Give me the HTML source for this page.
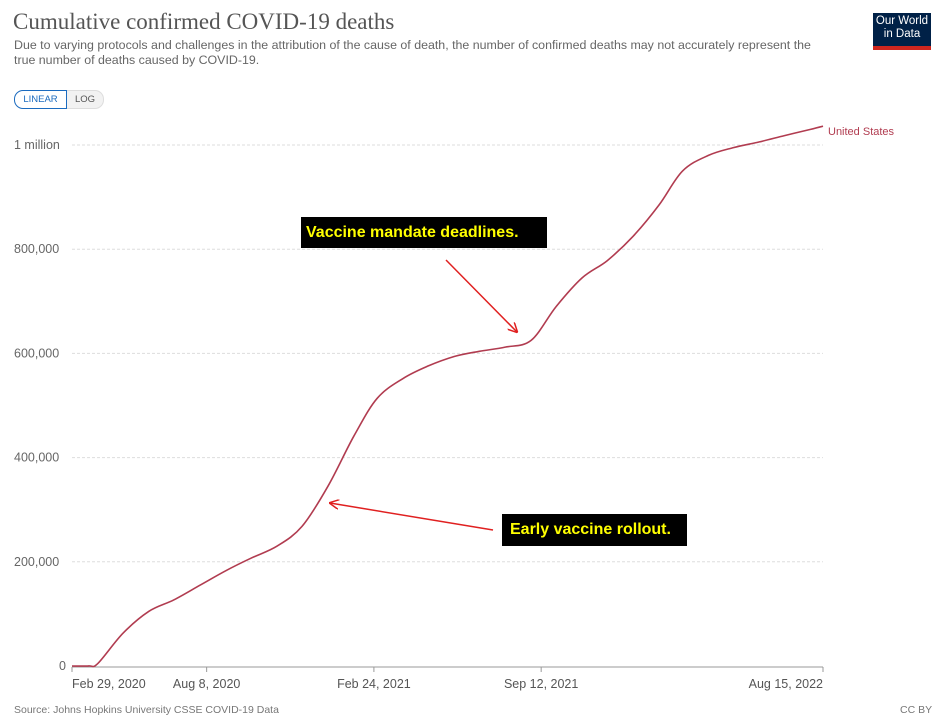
<!DOCTYPE html>
<html><head><meta charset="utf-8"><style>
body{margin:0;width:946px;height:725px;background:#fff;font-family:"Liberation Sans",sans-serif;position:relative;overflow:hidden}
.abs{position:absolute}
</style></head><body>
<div class="abs" style="left:13px;top:9px;font-family:'Liberation Serif',serif;font-size:23px;color:#555">Cumulative confirmed COVID-19 deaths</div>
<div class="abs" style="left:14px;top:38px;width:840px;font-size:12.4px;line-height:15px;color:#666;white-space:nowrap">Due to varying protocols and challenges in the attribution of the cause of death, the number of confirmed deaths may not accurately represent the<br>true number of deaths caused by COVID-19.</div>
<div class="abs" style="left:873px;top:13px;width:58px;height:31px;background:#002147;border-bottom:4px solid #ce261e;color:#fff;font-size:11.5px;line-height:13px;text-align:center;padding-top:2px;box-sizing:content-box">Our World<br>in Data</div>
<div class="abs" style="left:14px;top:90px;width:51px;height:17px;border:1px solid #1b6bbf;border-radius:9px 0 0 9px;font-size:9.5px;color:#1b6bbf;text-align:center;line-height:17px">LINEAR</div>
<div class="abs" style="left:67px;top:90px;width:36px;height:17px;border:1px solid #ddd;border-left:none;border-radius:0 9px 9px 0;background:#f2f2f2;font-size:9.5px;color:#555;text-align:center;line-height:17px">LOG</div>
<svg class="abs" style="left:0;top:0" width="946" height="725" id="chart"></svg>
<div class="abs" style="left:14px;top:704px;font-size:10.5px;color:#777">Source: Johns Hopkins University CSSE COVID-19 Data</div>
<div class="abs" style="left:900px;top:704px;font-size:10.5px;color:#777">CC BY</div>
<script>
const dates=["2020-02-29","2020-03-20","2020-03-31","2020-04-30","2020-05-31","2020-06-30","2020-07-31","2020-08-31","2020-09-30","2020-10-31","2020-11-30","2020-12-31","2021-01-31","2021-02-28","2021-03-31","2021-04-30","2021-05-31","2021-06-30","2021-07-31","2021-08-31","2021-09-30","2021-10-31","2021-11-30","2021-12-31","2022-01-31","2022-02-28","2022-03-31","2022-04-30","2022-05-31","2022-06-30","2022-07-31","2022-08-15"];
const deaths=[0,200,5000,63000,105000,127000,155000,183000,207000,230000,268000,345000,441000,514000,552000,576000,594000,604000,612000,625000,690000,745000,778000,825000,885000,950000,980000,995000,1006000,1018000,1030000,1036000];
const yTicks=[0,200000,400000,600000,800000,1000000];
const yTickLabels=["0","200,000","400,000","600,000","800,000","1 million"];
const xTicks=["2020-02-29","2020-08-08","2021-02-24","2021-09-12","2022-08-15"];
const xTickLabels=["Feb 29, 2020","Aug 8, 2020","Feb 24, 2021","Sep 12, 2021","Aug 15, 2022"];
const svg=document.getElementById('chart');const NS="http://www.w3.org/2000/svg";
const t0=Date.parse("2020-02-29"),t1=Date.parse("2022-08-15");
const X=d=>72+(Date.parse(d)-t0)/(t1-t0)*751;
const Y=v=>666-v/1000000*521;
function mk(tag,attrs,txt){const e=document.createElementNS(NS,tag);for(const k in attrs)e.setAttribute(k,attrs[k]);if(txt!==undefined)e.textContent=txt;svg.appendChild(e);return e;}
yTicks.forEach((v,i)=>{
 if(v>0){const g=mk('line',{x1:72,x2:823,y1:Y(v),y2:Y(v),stroke:'#ddd','stroke-dasharray':'3,2'});
 
 }
 const t=mk('text',{x:v>0?14:66,y:Y(v)+4,'font-size':12.5,fill:'#666','text-anchor':v>0?'start':'end','font-family':'Liberation Sans'},yTickLabels[i]);
 
 
});
const ax=mk('line',{x1:72,x2:823,y1:667,y2:667,stroke:'#999'});


xTicks.forEach((d,i)=>{
 const tk=mk('line',{x1:X(d),x2:X(d),y1:667,y2:672,stroke:'#999'});
 
 
 const anchor=i==0?'start':(i==xTicks.length-1?'end':'middle');
 const t=mk('text',{x:X(d),y:688,'font-size':12.5,fill:'#555','text-anchor':anchor,'font-family':'Liberation Sans'},xTickLabels[i]);
 
 
});
const pts=dates.map((d,i)=>[X(d),Y(deaths[i])]);
let dstr='M'+pts[0][0].toFixed(1)+','+pts[0][1].toFixed(1);
for(let i=0;i<pts.length-1;i++){
 const p0=pts[Math.max(0,i-1)],p1=pts[i],p2=pts[i+1],p3=pts[Math.min(pts.length-1,i+2)];
 const c1=[p1[0]+(p2[0]-p0[0])/6,p1[1]+(p2[1]-p0[1])/6],c2=[p2[0]-(p3[0]-p1[0])/6,p2[1]-(p3[1]-p1[1])/6];
 dstr+='C'+c1.map(n=>n.toFixed(1)).join(',')+' '+c2.map(n=>n.toFixed(1)).join(',')+' '+p2.map(n=>n.toFixed(1)).join(',');
}
const p=mk('path',{d:dstr,fill:'none',stroke:'#b13c50','stroke-width':1.6});


const lab=mk('text',{x:828,y:Y(deaths[deaths.length-1])+9,'font-size':11,fill:'#b13c50','font-family':'Liberation Sans'},'United States');


mk('defs',{}).innerHTML='<marker id="ah" markerWidth="10" markerHeight="10" refX="9" refY="5" orient="auto" markerUnits="userSpaceOnUse"><path d="M0,0 L10,5 L0,10" fill="none" stroke="#e02020" stroke-width="1.5"/></marker>';
const a1=mk('line',{x1:446,y1:260,x2:517,y2:332,stroke:'#e02020','stroke-width':1.5,'marker-end':'url(#ah)'});


const a2=mk('line',{x1:493,y1:530,x2:330,y2:503,stroke:'#e02020','stroke-width':1.5,'marker-end':'url(#ah)'});


</script>
<div class="abs" style="left:301px;top:217px;width:246px;height:31px;background:#000;color:#ffff00;font-weight:bold;font-size:16px;line-height:31px;padding-left:5px;box-sizing:border-box">Vaccine mandate deadlines.</div>
<div class="abs" style="left:502px;top:514px;width:185px;height:32px;background:#000;color:#ffff00;font-weight:bold;font-size:16px;line-height:32px;padding-left:8px;box-sizing:border-box">Early vaccine rollout.</div>
</body></html>
